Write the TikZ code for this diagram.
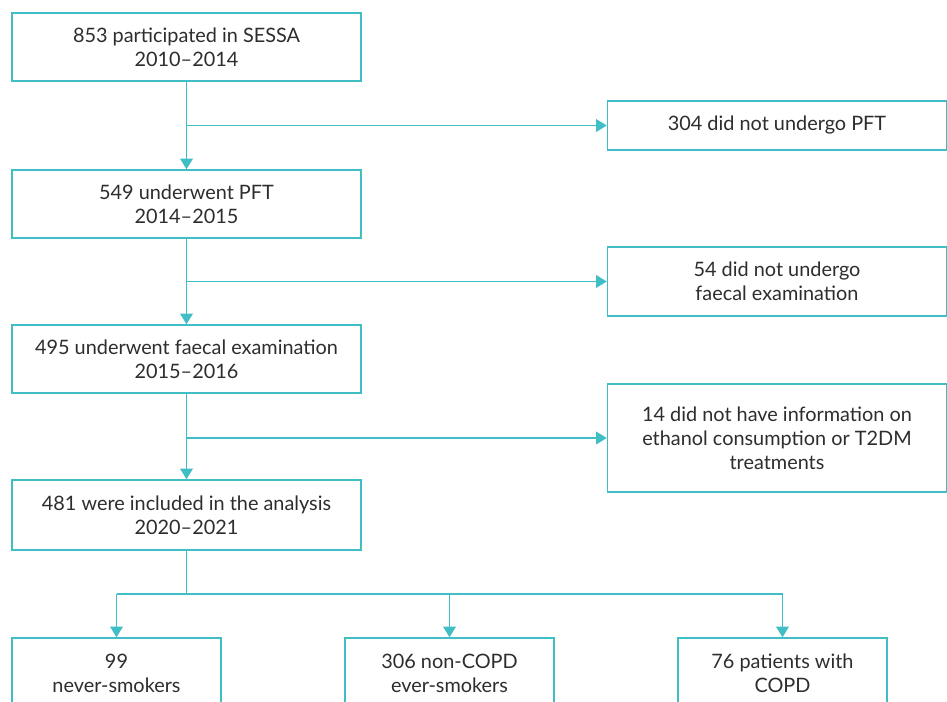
\documentclass[tikz,border=0pt]{standalone}
\usepackage{fontspec}
\setmainfont{Lato}
\usetikzlibrary{arrows.meta}
\definecolor{flowteal}{RGB}{64,190,198}
\definecolor{txtgrey}{RGB}{45,45,45}
\tikzset{
  box/.style={draw=flowteal, line width=1.1pt, align=center, text=txtgrey, inner sep=0pt,
    font=\fontsize{14.9}{18}\selectfont},
  mainbox/.style={box, minimum width=261.75pt, minimum height=51pt},
  sidebox/.style={box, minimum width=254.25pt},
  groupbox/.style={box, minimum width=156.75pt, minimum height=52.5pt},
  arr/.style={draw=flowteal, line width=1.1pt, -{Triangle[width=9.5pt,length=8pt]}},
  ln/.style={draw=flowteal, line width=1.1pt}
}
\begin{document}
\begin{tikzpicture}[x=0.75pt, y=-0.75pt]
    \useasboundingbox (0,0) rectangle (947,702);

    \node[mainbox] (n1) at (186.5,47) {853 participated in SESSA\\2010--2014};
    \node[mainbox] (n2) at (186.5,204) {549 underwent PFT\\2014--2015};
    \node[mainbox] (n3) at (186.5,359) {495 underwent faecal examination\\2015--2016};
    \node[mainbox, minimum height=52.5pt] (n4) at (186.5,515) {481 were included in the analysis\\2020--2021};

    \node[sidebox, minimum height=36.75pt] (r1) at (777,125.5) {304 did not undergo PFT};
    \node[sidebox, minimum height=51.75pt] (r2) at (777,281.5) {54 did not undergo\\faecal examination};
    \node[sidebox, minimum height=81pt] (r3) at (777,438) {14 did not have information on\\ethanol consumption or T2DM\\treatments};

    \node[groupbox] (g1) at (116.5,673) {99\\never-smokers};
    \node[groupbox] (g2) at (449.5,673) {306 non-COPD\\ever-smokers};
    \node[groupbox] (g3) at (782.5,673) {76 patients with\\COPD};

    \coordinate (fork) at (186.5,594);

    \draw[arr] (n1.south) -- (n2.north);
    \draw[arr] (n2.south) -- (n3.north);
    \draw[arr] (n3.south) -- (n4.north);
    \draw[arr] (n1.south |- r1) -- (r1.west);
    \draw[arr] (n2.south |- r2) -- (r2.west);
    \draw[arr] (n3.south |- r3) -- (r3.west);

    \draw[ln] (n4.south) -- (fork);
    \draw[ln] (g1.north |- fork) -- (g3.north |- fork);
    \draw[arr] (g1.north |- fork) -- (g1.north);
    \draw[arr] (g2.north |- fork) -- (g2.north);
    \draw[arr] (g3.north |- fork) -- (g3.north);
\end{tikzpicture}
\end{document}
